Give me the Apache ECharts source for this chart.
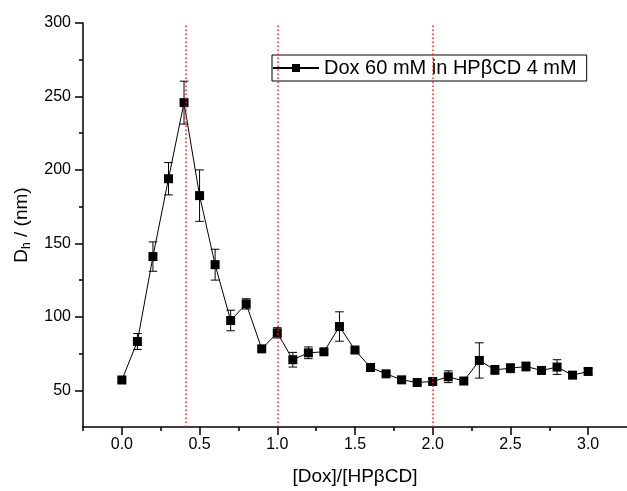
<!DOCTYPE html>
<html><head><meta charset="utf-8">
<script src="https://cdn.jsdelivr.net/npm/echarts@6/dist/echarts.min.js"></script>
<style>html,body{margin:0;padding:0;background:#fff}#c{width:627px;height:491px}</style>
</head><body><div id="c"></div>
<script>
const xValues = [0.0,0.1,0.2,0.3,0.4,0.5,0.6,0.7,0.8,0.9,1.0,1.1,1.2,1.3,1.4,1.5,1.6,1.7,1.8,1.9,2.0,2.1,2.2,2.3,2.4,2.5,2.6,2.7,2.8,2.9,3.0];
const dhValues = [57,83.2,141,194,245.8,182.5,135.5,97.5,108.8,78.2,89.1,70.8,75.5,76.2,93.4,77.4,65.5,61.2,57.1,55.3,56,59.2,56.3,70.3,63.9,65,66.2,63.5,65.8,60.3,62.8];
const errValues = [1.5,5.4,10,11,14.6,17.5,10.5,7,3.5,1.5,3.5,5,4,1.5,10,1.5,1.5,1.5,1.5,1.5,1.5,4,1.5,12,3,3,3,1.5,5,1.5,2];
const refLines = [0.41,1.0,2.0];
const xMajorTicks = [0,0.5,1.0,1.5,2.0,2.5,3.0];
const xMinorTicks = [-0.25,0.25,0.75,1.25,1.75,2.25,2.75];
const yMajorTicks = [50,100,150,200,250,300];
const yMinorTicks = [75,125,175,225,275];
const seriesName = 'Dox 60 mM in HP\u03B2CD 4 mM';
const xTitle = '[Dox]/[HP\u03B2CD]';

const FONT = 'Liberation Sans, Arial, sans-serif';
const lineData = xValues.map((x,i)=>[x,dhValues[i]]);
const errData = xValues.map((x,i)=>[x,dhValues[i]-errValues[i],dhValues[i]+errValues[i]]);

const chart = echarts.init(document.getElementById('c'));
const baseX = {type:'value',min:-0.25,max:3.25,position:'bottom',splitLine:{show:false}};
const baseY = {type:'value',min:25,max:300,position:'left',splitLine:{show:false}};
chart.setOption({
  animation:false,
  backgroundColor:'#fff',
  grid:{left:83,right:0,top:23,bottom:63},
  legend:{
    left:272, top:55, data:[seriesName],
    borderColor:'#000', borderWidth:1, backgroundColor:'#fff',
    padding:[3,10,3,0], itemWidth:46, itemHeight:10, itemGap:6,
    textStyle:{fontFamily:FONT,fontSize:20,color:'#000'}
  },
  xAxis:[
    Object.assign({},baseX,{
      name:xTitle, nameLocation:'middle', nameGap:40,
      nameTextStyle:{fontFamily:FONT,fontSize:19,color:'#000'},
      axisLine:{onZero:false,lineStyle:{color:'#000',width:1.5}},
      axisTick:{show:true,length:8,lineStyle:{color:'#000',width:1.5},customValues:xMajorTicks},
      axisLabel:{fontFamily:FONT,fontSize:16,color:'#000',margin:10,customValues:xMajorTicks,formatter:v=>v.toFixed(1)}
    }),
    Object.assign({},baseX,{
      axisLine:{show:false,onZero:false},
      axisTick:{show:true,length:4,lineStyle:{color:'#000',width:1.5},customValues:xMinorTicks},
      axisLabel:{show:false}
    })
  ],
  yAxis:[
    Object.assign({},baseY,{
      name:'{m|D}{s|h}{m| / (nm)}', nameLocation:'middle', nameGap:50, nameRotate:90,
      nameTextStyle:{fontFamily:FONT,fontSize:19,color:'#000',
        rich:{m:{fontFamily:FONT,fontSize:19,color:'#000'},s:{fontFamily:FONT,fontSize:12,color:'#000',padding:[10,0,0,0]}}},
      axisLine:{onZero:false,lineStyle:{color:'#000',width:1.5}},
      axisTick:{show:true,length:8,lineStyle:{color:'#000',width:1.5},customValues:yMajorTicks},
      axisLabel:{fontFamily:FONT,fontSize:16,color:'#000',margin:12,customValues:yMajorTicks}
    }),
    Object.assign({},baseY,{
      axisLine:{show:false,onZero:false},
      axisTick:{show:true,length:4,lineStyle:{color:'#000',width:1.5},customValues:yMinorTicks},
      axisLabel:{show:false}
    })
  ],
  series:[
    {
      name:seriesName, type:'line', data:lineData, xAxisIndex:0, yAxisIndex:0,
      symbol:'rect', symbolSize:9, color:'#000',
      itemStyle:{color:'#000'}, lineStyle:{color:'#000',width:1},
      z:3,
      markLine:{
        silent:true, symbol:'none', label:{show:false},
        lineStyle:{color:'#ff2020',width:1.5,type:[1.5,2.5]},
        data:refLines.map(v=>({xAxis:v}))
      }
    },
    {
      type:'custom', data:errData, xAxisIndex:0, yAxisIndex:0, z:2,
      renderItem:function(params,api){
        const x=api.value(0);
        const lo=api.coord([x,api.value(1)]);
        const hi=api.coord([x,api.value(2)]);
        const hw=4.3;
        const st={stroke:'#000',lineWidth:1};
        return {type:'group',children:[
          {type:'line',shape:{x1:lo[0],y1:lo[1],x2:hi[0],y2:hi[1]},style:st},
          {type:'line',shape:{x1:lo[0]-hw,y1:lo[1],x2:lo[0]+hw,y2:lo[1]},style:st},
          {type:'line',shape:{x1:hi[0]-hw,y1:hi[1],x2:hi[0]+hw,y2:hi[1]},style:st}
        ]};
      }
    }
  ]
});
</script></body></html>
